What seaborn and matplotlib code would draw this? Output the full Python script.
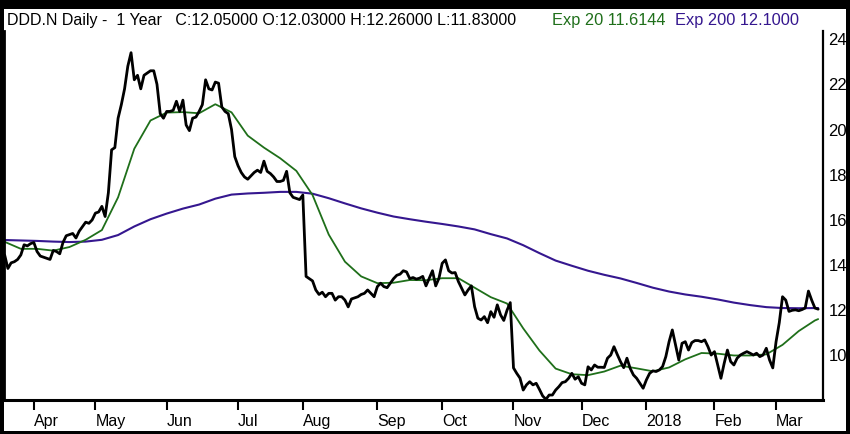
import numpy as np
import pandas as pd
import matplotlib
matplotlib.use("Agg")
import matplotlib.pyplot as plt
from matplotlib.patches import Rectangle
import seaborn as sns

# ---------------- data ----------------
start_date = "2017-03-21"
end_date = "2018-03-20"
market_holidays = ["2017-04-14", "2017-05-29", "2017-07-04", "2017-09-04",
                   "2017-11-23", "2017-12-25", "2018-01-01", "2018-01-15",
                   "2018-02-19"]

close = [
    14.45, 13.85, 14.10, 14.15, 14.25, 14.45, 14.90, 14.85, 14.95,          # Mar 2017
    15.00, 14.60, 14.40, 14.35, 14.30, 14.25, 14.65, 14.60, 14.50, 15.00,
    15.30, 15.35, 15.40, 15.20, 15.50, 15.70, 15.90, 15.85, 16.00,          # Apr
    16.30, 16.35, 16.60, 16.15, 17.20, 19.10, 19.20, 20.50, 21.10, 21.80,
    22.80, 23.40, 22.20, 22.40, 21.80, 22.40, 22.50, 22.60, 22.60, 22.00,
    20.70, 20.50,                                                            # May
    20.80, 20.80, 20.85, 21.25, 20.80, 21.30, 20.20, 19.95, 20.50, 20.55,
    20.80, 21.10, 22.20, 21.80, 21.75, 22.10, 22.05, 21.00, 20.80, 20.70,
    20.00, 18.80,                                                            # Jun
    18.40, 18.10, 17.90, 17.80, 17.95, 18.10, 18.20, 18.10, 18.60, 18.15,
    18.05, 17.90, 17.70, 17.70, 17.75, 18.15, 17.20, 17.00, 16.95, 16.90,  # Jul
    17.10, 13.50, 13.40, 13.30, 12.90, 12.70, 12.80, 12.60, 12.75, 12.75,
    12.45, 12.60, 12.60, 12.45, 12.15, 12.50, 12.55, 12.60, 12.70, 12.75,
    12.90, 12.75, 12.60,                                                     # Aug
    13.05, 13.20, 13.05, 13.00, 13.20, 13.40, 13.55, 13.60, 13.75, 13.70,
    13.40, 13.45, 13.38, 13.42, 13.50, 13.08, 13.42, 13.75, 13.08, 13.42,  # Sep
    14.08, 14.23, 13.75, 13.65, 13.67, 13.27, 12.97, 12.68, 12.90, 13.08,
    12.16, 11.65, 11.57, 11.72, 11.45, 11.94, 11.69, 12.24, 11.80, 11.55,
    12.00, 12.34,                                                            # Oct
    9.45, 9.21, 9.00, 8.47, 8.70, 8.84, 8.70, 8.77, 8.50, 8.21,
    8.06, 8.25, 8.25, 8.47, 8.62, 8.80, 8.84, 8.99, 9.21, 8.95, 9.06,      # Nov
    8.77, 8.70, 9.50, 9.36, 9.58, 9.48, 9.48, 9.47, 9.88, 10.02,
    10.39, 10.05, 9.73, 9.46, 9.88, 9.43, 9.14, 8.99, 8.77, 8.55,          # Dec
    8.92, 9.21, 9.32, 9.29, 9.36, 9.51, 9.95, 10.61, 11.13, 10.47,
    9.80, 10.54, 10.61, 10.24, 10.57, 10.66, 10.66, 10.61, 10.69, 10.39,
    10.02,                                                                   # Jan 2018
    10.17, 9.58, 8.99, 9.65, 10.24, 9.73, 9.58, 9.88, 10.02, 10.10,
    10.17, 10.10, 10.02, 10.10, 9.95, 10.02, 10.32, 9.80, 9.45,            # Feb
    10.60, 11.45, 12.60, 12.45, 11.95, 12.00, 12.02, 11.98, 12.03, 12.10,
    12.85, 12.45, 12.10, 12.05,                                              # Mar
]

# EMA lines read every 5th trading day (plus the last day)
ema20 = [15.03, 14.72, 14.72, 14.64, 14.80, 15.12, 15.55, 17.00, 19.15, 20.40,
         20.75, 20.77, 20.72, 21.12, 20.76, 19.73, 19.20, 18.73, 18.17, 17.10,
         15.35, 14.15, 13.50, 13.20, 13.22, 13.34, 13.33, 13.42, 13.42, 13.00,
         12.58, 12.30, 11.20, 10.22, 9.42, 9.17, 9.13, 9.29, 9.55, 9.43,
         9.30, 9.47, 9.83, 10.11, 10.08, 10.00, 10.00, 10.05, 10.47, 11.08,
         11.55, 11.61]
ema200 = [15.11, 15.09, 15.07, 15.04, 15.02, 15.04, 15.12, 15.33, 15.71, 16.03,
          16.28, 16.50, 16.68, 16.94, 17.12, 17.17, 17.20, 17.24, 17.24, 17.16,
          16.96, 16.73, 16.51, 16.32, 16.15, 16.03, 15.92, 15.82, 15.71, 15.58,
          15.37, 15.18, 14.88, 14.53, 14.20, 13.97, 13.75, 13.57, 13.41, 13.21,
          13.00, 12.83, 12.70, 12.60, 12.48, 12.34, 12.23, 12.14, 12.10, 12.09,
          12.10, 12.10]

header_main = "DDD.N Daily -  1 Year   C:12.05000 O:12.03000 H:12.26000 L:11.83000"
header_ema20 = "Exp 20 11.6144"
header_ema200 = "Exp 200 12.1000"
y_ticks = [10, 12, 14, 16, 18, 20, 22, 24]

# ---------------- build ----------------
dates = pd.bdate_range(start_date, end_date, freq="C", holidays=market_holidays)
pos = np.arange(len(dates))
df = pd.DataFrame({"pos": pos, "close": close})

ema_pos = list(pos[::5]) + [pos[-1]]
df_ema = pd.DataFrame({"pos": ema_pos, "ema20": ema20, "ema200": ema200})

month_pos, month_lab = [], []
for k in range(1, len(dates)):
    if dates[k].month != dates[k - 1].month:
        month_pos.append(pos[k])
        month_lab.append(str(dates[k].year) if dates[k].month == 1 else dates[k].strftime("%b"))

sns.set_theme(style="white")
plt.rcParams["font.family"] = ["Liberation Sans", "DejaVu Sans"]

W, H = 850, 434
fig = plt.figure(figsize=(W / 100, H / 100), dpi=100)
fig.patch.set_facecolor("white")
ax = fig.add_axes([4 / W, (H - 400) / H, (822.7 - 4) / W, (400 - 31) / H])

GREEN = "#1f6f1a"
PURPLE = "#35178f"

sns.lineplot(data=df_ema, x="pos", y="ema200", ax=ax, color=PURPLE, lw=1.5)
sns.lineplot(data=df_ema, x="pos", y="ema20", ax=ax, color=GREEN, lw=1.3)
sns.lineplot(data=df, x="pos", y="close", ax=ax, color="black", lw=2.0)

ax.set_xlim(-0.2, 252.4)
ax.set_ylim(8.03, 24.36)
ax.set_xlabel("")
ax.set_ylabel("")

ax.yaxis.tick_right()
ax.set_yticks(y_ticks)
ax.set_yticklabels([str(v) for v in y_ticks])
ax.tick_params(axis="y", length=0, pad=4, labelsize=12, colors="black")

ax.set_xticks(month_pos)
ax.set_xticklabels(month_lab, ha="left")
ax.tick_params(axis="x", direction="out", length=7, width=1.5, pad=3,
               labelsize=11.5, colors="black", bottom=True)

ax.spines["top"].set_visible(False)
ax.spines["left"].set_color("black")
ax.spines["left"].set_linewidth(2)
ax.spines["right"].set_color("black")
ax.spines["right"].set_linewidth(1.6)
ax.spines["bottom"].set_color("black")
ax.spines["bottom"].set_linewidth(2.2)

# header
hy = 1 - 20 / H
fig.text(7 / W, hy, header_main, color="black", fontsize=11.5, va="center", ha="left")
fig.text(551.7 / W, hy, header_ema20, color=GREEN, fontsize=11.8, va="center", ha="left")
fig.text(675 / W, hy, header_ema200, color=PURPLE, fontsize=11.8, va="center", ha="left")

# black frame around the image
frame = [(0, 0, 4 / W, 1), (846 / W, 0, 4 / W, 1), (0, 0, 1, 3 / H), (0, 1 - 9 / H, 1, 9 / H)]
for (x0, y0, w, h) in frame:
    fig.patches.append(Rectangle((x0, y0), w, h, transform=fig.transFigure,
                                 facecolor="black", edgecolor="none", zorder=10))

fig.savefig("out.png", dpi=100, facecolor="white")
